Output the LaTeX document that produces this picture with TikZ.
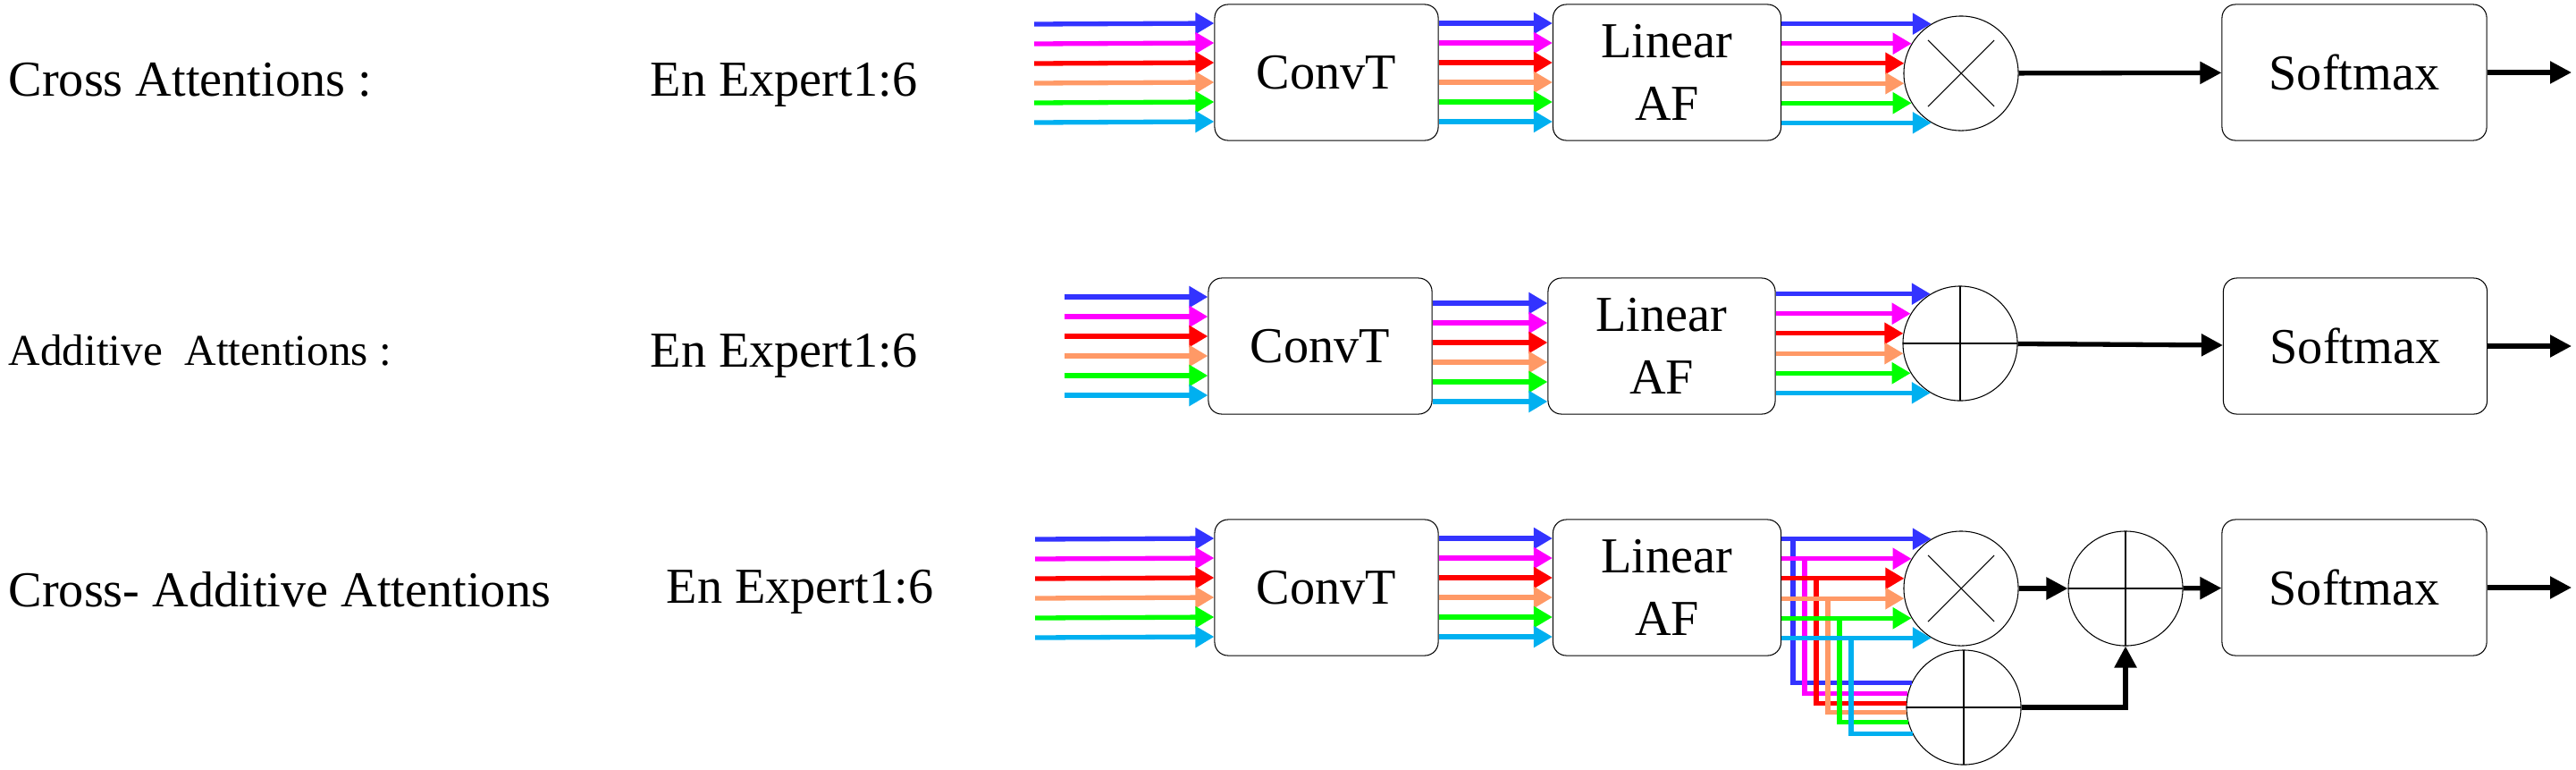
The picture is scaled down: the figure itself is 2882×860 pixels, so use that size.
\documentclass[tikz,border=0pt]{standalone}
\usepackage{fontspec}
\setmainfont{Liberation Serif}
\usetikzlibrary{arrows.meta,calc}

\definecolor{cblue}{HTML}{3333FF}
\definecolor{cmag}{HTML}{FF00FF}
\definecolor{cred}{HTML}{FF0000}
\definecolor{corange}{HTML}{FF9966}
\definecolor{cgreen}{HTML}{00FF00}
\definecolor{ccyan}{HTML}{00B0F0}

\begin{document}
\begin{tikzpicture}[x=0.01cm,y=-0.01cm,font=\fontsize{16}{20}\selectfont]
        \tikzstyle{block}=[draw,line width=0.3pt,rounded corners=0.15cm,minimum width=2.5cm,minimum height=1.52cm,align=center]
        \tikzstyle{caption}=[anchor=base west,inner sep=0pt]
        \tikzstyle{prodop}=[draw,circle,line width=0.3pt,minimum size=1.28cm,inner sep=0pt,
            path picture={\draw[line width=0.3pt] ([shift={(-0.37cm,0.37cm)}]path picture bounding box.center) -- ([shift={(0.37cm,-0.37cm)}]path picture bounding box.center)
                ([shift={(-0.37cm,-0.37cm)}]path picture bounding box.center) -- ([shift={(0.37cm,0.37cm)}]path picture bounding box.center);}]
        \tikzstyle{sumop}=[draw,circle,line width=0.3pt,minimum size=1.28cm,inner sep=0pt,
            path picture={\draw[line width=0.4pt] (path picture bounding box.north) -- (path picture bounding box.south)
                (path picture bounding box.west) -- (path picture bounding box.east);}]
        \tikzstyle{wire}=[line width=0.053cm,-{Triangle[length=0.21cm,width=0.23cm]}]
        \tikzstyle{branch}=[line width=0.053cm]
        \tikzstyle{signal}=[line width=0.053cm,-{Triangle[length=0.24cm,width=0.24cm]}]

        \useasboundingbox (0,0) rectangle (2882,860);

        % Cross attentions
        \node[caption](name1) at (9,107){Cross Attentions :};
        \node[caption](exp1) at (727,107){En Expert1:6};
        \coordinate (in1) at (1157,82);
        \node[block](conv1) at (1484,81){ConvT};
        \node[block,minimum width=2.55cm](laf1) at (1865,81){Linear\\AF};
        \node[prodop](mul1) at (2194,82){};
        \node[block,minimum width=2.96cm](soft1) at (2634,81){Softmax};
        \coordinate (out1) at (2877,81);

        % Additive attentions
        \node[caption,font=\fontsize{14}{17}\selectfont](name2) at (9,408){Additive\ \ Attentions :};
        \node[caption](exp2) at (727,410){En Expert1:6};
        \coordinate (in2) at (1191,387);
        \node[block](conv2) at (1477,387){ConvT};
        \node[block,minimum width=2.54cm](laf2) at (1859,387){Linear\\AF};
        \node[sumop](add2) at (2193,384){};
        \node[block,minimum width=2.95cm](soft2) at (2635,387){Softmax};
        \coordinate (out2) at (2877,387);

        % Cross-additive attentions
        \node[caption](name3) at (9,678){Cross- Additive Attentions};
        \node[caption](exp3) at (745,674){En Expert1:6};
        \coordinate (in3) at (1158,658);
        \node[block](conv3) at (1484,657){ConvT};
        \node[block,minimum width=2.55cm](laf3) at (1865,657){Linear\\AF};
        \node[prodop](mul3) at (2194,658){};
        \node[sumop](lowsum) at (2197,791){};
        \node[sumop](sum3) at (2378,658){};
        \node[block,minimum width=2.96cm](soft3) at (2634,657){Softmax};
        \coordinate (out3) at (2877,657);

        \foreach \c/\o/\bx/\lo in {cblue/-55/13/-27,cmag/-33/26/-16,cred/-11/39/-5,corange/11/52/6,cgreen/33/65/17,ccyan/55/78/29}{
            \pgfmathtruncatemacro\a{round(180+asin(\o/64))}
            \pgfmathtruncatemacro\b{round(180+asin(\lo/64))}
            \draw[wire,\c] ($(in1)+(0,\o)$) -- ($(conv1.west)+(0,\o)$);
            \draw[wire,\c] ($(conv1.east)+(0,\o)$) -- ($(laf1.west)+(0,\o)$);
            \draw[wire,\c] (laf1.east |- mul1.\a) -- (mul1.\a);

            \draw[wire,\c] ($(in2)+(0,\o)$) -- ($(conv2.west)+(0,\o)$);
            \draw[wire,\c] ($(conv2.east)+(0,{\o+7})$) -- ($(laf2.west)+(0,{\o+7})$);
            \draw[wire,\c] (laf2.east |- add2.\a) -- (add2.\a);

            \draw[wire,\c] ($(in3)+(0,\o)$) -- ($(conv3.west)+(0,\o)$);
            \draw[wire,\c] ($(conv3.east)+(0,\o)$) -- ($(laf3.west)+(0,\o)$);
            \draw[wire,\c] (laf3.east |- mul3.\a) -- (mul3.\a);
            \draw[branch,\c] ($(laf3.east |- mul3.\a)+(\bx,0)$) |- (lowsum.\b);
        }

        \draw[signal] (mul1) -- (soft1);
        \draw[signal] (soft1) -- (out1);
        \draw[signal] (add2) -- (soft2);
        \draw[signal] (soft2) -- (out2);
        \draw[signal] (mul3) -- (sum3);
        \draw[signal] (lowsum) -| (sum3);
        \draw[signal] (sum3) -- (soft3);
        \draw[signal] (soft3) -- (out3);

    \end{tikzpicture}
\end{document}
